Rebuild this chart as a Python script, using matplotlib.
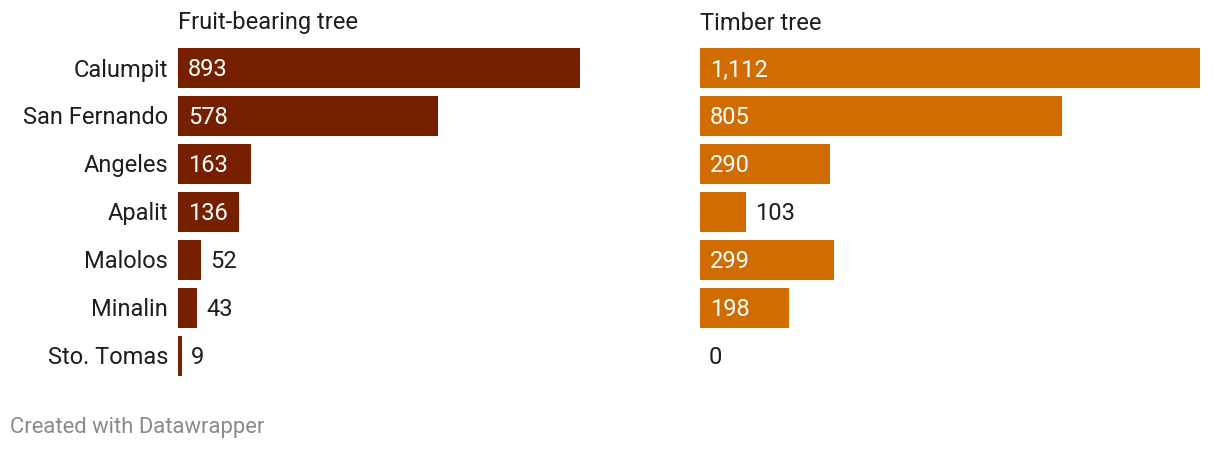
import matplotlib.pyplot as plt
from matplotlib.transforms import offset_copy

plt.rcParams['font.family'] = ['Roboto', 'DejaVu Sans']

# 데이터
towns = ["Calumpit", "San Fernando", "Angeles", "Apalit", "Malolos", "Minalin", "Sto. Tomas"]
fruit = [893, 578, 163, 136, 52, 43, 9]
timber = [1112, 805, 290, 103, 299, 198, 0]
titles = ["Fruit-bearing tree", "Timber tree"]
colors = ["#762000", "#d06c00"]

W, H = 1220, 452
fig = plt.figure(figsize=(W / 100, H / 100), dpi=100)

# 축 위치 (픽셀 기준)
top_px, bottom_px = 45, 381
panels = [(178, 678), (700, 1200)]
xmax = 1112
FS = 17

for (x0, x1), values, title, color in zip(panels, [fruit, timber], titles, colors):
    ax = fig.add_axes([x0 / W, (H - bottom_px) / H, (x1 - x0) / W, (bottom_px - top_px) / H])
    y = list(range(len(towns)))
    ax.barh(y, values, height=40 / 48, color=color)
    ax.set_xlim(0, xmax)
    ax.set_ylim(len(towns) - 0.5, -0.5)
    ax.axis("off")

    for yi, v in zip(y, values):
        text = f"{v:,}"
        if v >= 130:
            # 막대 안쪽 라벨
            tr = offset_copy(ax.transData, fig=fig, x=10, y=-1, units="dots")
            ax.text(0, yi, text, transform=tr, color="white", fontsize=FS,
                    va="center", ha="left")
        else:
            # 막대가 짧으면 바깥쪽
            tr = offset_copy(ax.transData, fig=fig, x=9, y=-1, units="dots")
            ax.text(v, yi, text, transform=tr, color="#1d1d1d", fontsize=FS,
                    va="center", ha="left")

    fig.text(x0 / W, 1 - 23 / H, title, fontsize=FS, color="#1d1d1d", va="center", ha="left")

    if x0 == 178:
        for yi, name in zip(y, towns):
            tr = offset_copy(ax.transData, fig=fig, x=-10, y=-1, units="dots")
            ax.text(0, yi, name, transform=tr, color="#1d1d1d", fontsize=FS,
                    va="center", ha="right")

fig.text(10 / W, 1 - 428 / H, "Created with Datawrapper", fontsize=15.8, color="#8a8a8a",
         va="center", ha="left")

fig.savefig("out.png", dpi=100, facecolor="white")
